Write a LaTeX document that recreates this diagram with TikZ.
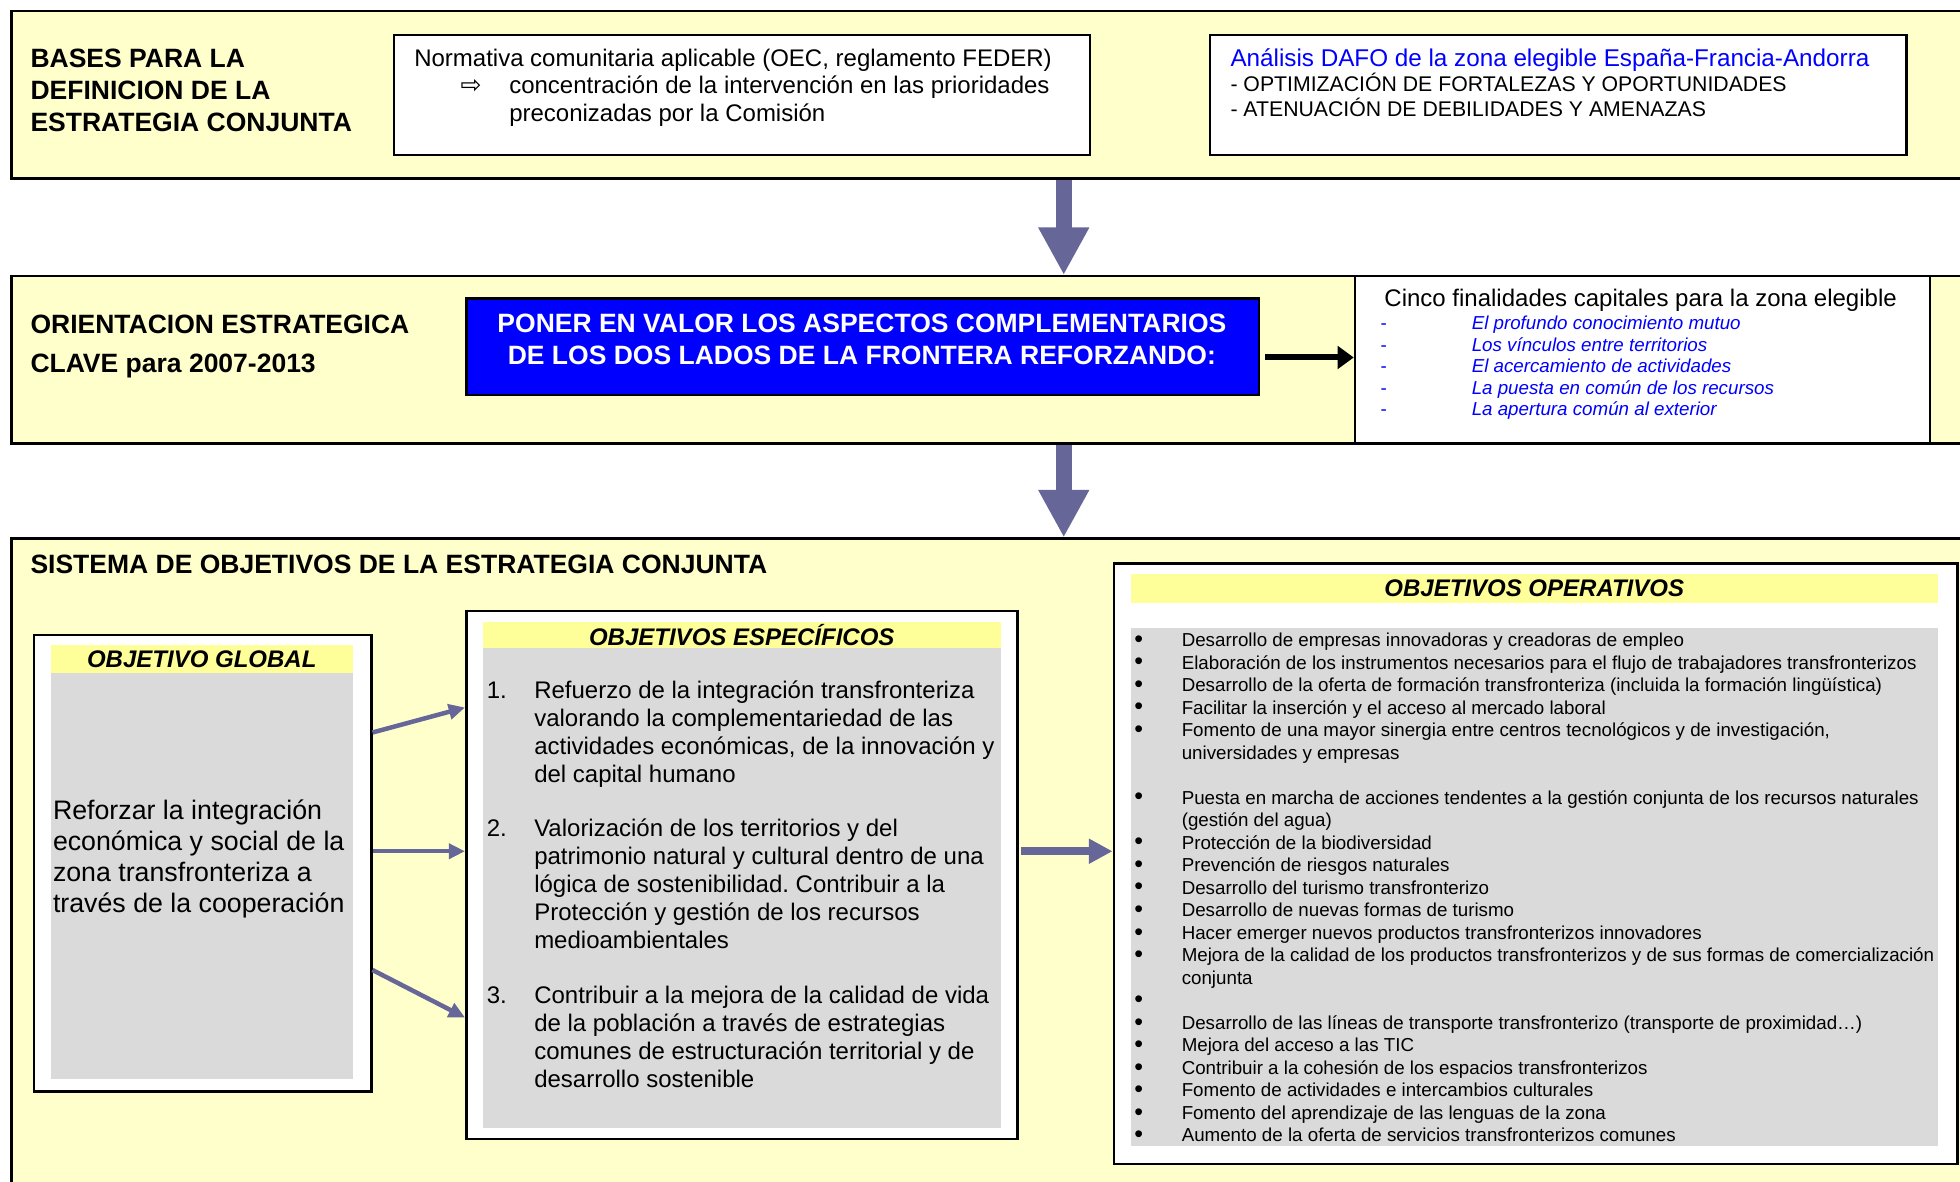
\documentclass[tikz,border=0pt]{standalone}
\usepackage{fontspec}
\setmainfont{Liberation Sans}
\newfontfamily\djv{DejaVu Sans}
\usetikzlibrary{arrows.meta}
\definecolor{panelY}{HTML}{FFFFCC}
\definecolor{headY}{HTML}{FFFF99}
\definecolor{greyF}{HTML}{DADADA}
\definecolor{arrB}{HTML}{666699}
\definecolor{pureB}{HTML}{0000FF}
\frenchspacing
\begin{document}
\begin{tikzpicture}[x=0.5pt,y=-0.5pt,
  panel/.style={draw=black, line width=1pt, fill=panelY, anchor=north west, inner sep=0pt},
  wbox/.style={draw=black, line width=1pt, fill=white, anchor=north west, inner sep=0pt},
  hbar/.style={fill=headY, anchor=north west, inner sep=0pt, font=\fontsize{9.6}{11}\selectfont\bfseries\itshape},
  gbar/.style={fill=greyF, anchor=north west, inner sep=0pt},
  txt/.style={anchor=base west, inner sep=0pt},
  hd/.style={txt, font=\fontsize{10.6}{12}\selectfont\bfseries},
  bigarrow/.style={draw=arrB, line width=6.2pt, -{Triangle[width=19pt,length=19pt]}, arrB},
  midarrow/.style={draw=arrB, line width=3pt, -{Triangle[width=9.5pt,length=9.5pt]}, arrB},
  smallarrow/.style={draw=arrB, line width=1.8pt, -{Triangle[width=6pt,length=6.5pt]}, arrB},
  blackarrow/.style={draw=black, line width=2.4pt, -{Triangle[width=9pt,length=6.5pt]}}
]
\useasboundingbox (0,0) rectangle (1568,945);
\fill[white] (0,0) rectangle (1568,945);

% ---------- panel 1 ----------
\node[panel, minimum width=796pt, minimum height=67pt] (p1) at (8,8) {};
\foreach \t [count=\i] in {BASES PARA LA, DEFINICION DE LA, ESTRATEGIA CONJUNTA}
  \node[hd] (ha\i) at (24,{54+25.5*(\i-1)}) {\t};
\node[wbox, minimum width=278.5pt, minimum height=48pt] (bn) at (314,27) {};
\node[txt, font=\fontsize{9.6}{11}\selectfont] (bn1) at (331,53) {Normativa comunitaria aplicable (OEC, reglamento FEDER)};
\node[anchor=base west, inner sep=0pt, font=\djv\fontsize{10}{11}\selectfont] (bnar) at (368,75) {⇨};
\node[txt, font=\fontsize{9.6}{11}\selectfont] (bn2) at (407,75) {concentración de la intervención en las prioridades};
\node[txt, font=\fontsize{9.6}{11}\selectfont] (bn3) at (407,97) {preconizadas por la Comisión};
\node[wbox, minimum width=278.5pt, minimum height=48pt] (bd) at (967,27) {};
\node[txt, font=\fontsize{9.7}{11}\selectfont, text=pureB] (bd1) at (984,53) {Análisis DAFO de la zona elegible España-Francia-Andorra};
\node[txt, font=\fontsize{8.5}{10}\selectfont] (bd2) at (984,73) {- OPTIMIZACIÓN DE FORTALEZAS Y OPORTUNIDADES};
\node[txt, font=\fontsize{8.5}{10}\selectfont] (bd3) at (984,93) {- ATENUACIÓN DE DEBILIDADES Y AMENAZAS};

% ---------- panel 2 ----------
\node[panel, minimum width=796pt, minimum height=67pt] (p2) at (8,220) {};
\node[hd] (hb1) at (24,267) {ORIENTACION ESTRATEGICA};
\node[hd] (hb2) at (24,298) {CLAVE para 2007-2013};
\node[draw=black, line width=1pt, fill=pureB, anchor=north west, inner sep=0pt, minimum width=317pt, minimum height=38.5pt] (blue) at (372,238) {};
\node[anchor=base, inner sep=0pt, text=white, font=\fontsize{10.6}{12}\selectfont\bfseries] (bl1) at (689.5,266) {PONER EN VALOR LOS ASPECTOS COMPLEMENTARIOS};
\node[anchor=base, inner sep=0pt, text=white, font=\fontsize{10.6}{12}\selectfont\bfseries] (bl2) at (689.5,292) {DE LOS DOS LADOS DE LA FRONTERA REFORZANDO:};
\node[wbox, minimum width=230pt, minimum height=67pt] (cinco) at (1083,220) {};
\node[anchor=base, inner sep=0pt, font=\fontsize{9.6}{11}\selectfont] (ct) at (1312.5,245) {Cinco finalidades capitales para la zona elegible};
\foreach \t [count=\i] in {El profundo conocimiento mutuo, Los vínculos entre territorios, El acercamiento de actividades, La puesta en común de los recursos, La apertura común al exterior}{
  \node[txt, text=pureB, font=\fontsize{7.5}{8.6}\selectfont] (cd\i) at (1104,{264+17.2*(\i-1)}) {-};
  \node[txt, text=pureB, font=\fontsize{7.5}{8.6}\selectfont\itshape] (ci\i) at (1177,{264+17.2*(\i-1)}) {\t};
}

% ---------- panel 3 ----------
\node[panel, minimum width=796pt, minimum height=300pt] (p3) at (8,430) {};
\node[hd] (hc) at (24,459) {SISTEMA DE OBJETIVOS DE LA ESTRATEGIA CONJUNTA};

% objetivo global
\node[wbox, minimum width=135pt, minimum height=182.5pt] (gbox) at (26,507) {};
\node[hbar, minimum width=121pt, minimum height=11pt] (ghead) at (40,516) {OBJETIVO GLOBAL};
\node[gbar, minimum width=121pt, minimum height=162.5pt] (ggrey) at (40,538) {};
\foreach \t [count=\i] in {Reforzar la integración, económica y social de la, zona transfronteriza a, través de la cooperación}
  \node[txt, font=\fontsize{10.7}{12.3}\selectfont] (gt\i) at (42,{656+24.6*(\i-1)}) {\t};

% objetivos especificos
\node[wbox, minimum width=220.5pt, minimum height=211pt] (sbox) at (372,488) {};
\node[hbar, minimum width=207pt, minimum height=10.5pt] (shead) at (386,497) {OBJETIVOS ESPECÍFICOS};
\node[gbar, minimum width=207pt, minimum height=192pt] (sgrey) at (386,518) {};
\node[txt, font=\fontsize{9.6}{11.2}\selectfont] (sn1) at (389,558.5) {1.};
\node[txt, font=\fontsize{9.6}{11.2}\selectfont] (sn2) at (389,669) {2.};
\node[txt, font=\fontsize{9.6}{11.2}\selectfont] (sn3) at (389,802.5) {3.};
\foreach \t [count=\i] in {Refuerzo de la integración transfronteriza, valorando la complementariedad de las, {actividades económicas, de la innovación y}, del capital humano}
  \node[txt, font=\fontsize{9.6}{11.2}\selectfont] (sa\i) at (427,{558.5+22.4*(\i-1)}) {\t};
\foreach \t [count=\i] in {Valorización de los territorios y del, patrimonio natural y cultural dentro de una, lógica de sostenibilidad. Contribuir a la, Protección y gestión de los recursos, medioambientales}
  \node[txt, font=\fontsize{9.6}{11.2}\selectfont] (sb\i) at (427,{669+22.4*(\i-1)}) {\t};
\foreach \t [count=\i] in {Contribuir a la mejora de la calidad de vida, de la población a través de estrategias, comunes de estructuración territorial y de, desarrollo sostenible}
  \node[txt, font=\fontsize{9.6}{11.2}\selectfont] (sc\i) at (427,{802.5+22.4*(\i-1)}) {\t};

% objetivos operativos
\node[wbox, minimum width=337.5pt, minimum height=240pt] (obox) at (890,450) {};
\node[hbar, minimum width=323pt, minimum height=11.5pt] (ohead) at (904,459) {OBJETIVOS OPERATIVOS};
\node[gbar, minimum width=323pt, minimum height=207pt] (ogrey) at (904,502) {};
\foreach \k/\b/\t in {
  0/1/{Desarrollo de empresas innovadoras y creadoras de empleo},
  1/1/{Elaboración de los instrumentos necesarios para el flujo de trabajadores transfronterizos},
  2/1/{Desarrollo de la oferta de formación transfronteriza (incluida la formación lingüística)},
  3/1/{Facilitar la inserción y el acceso al mercado laboral},
  4/1/{Fomento de una mayor sinergia entre centros tecnológicos y de investigación,},
  5/0/{universidades y empresas},
  7/1/{Puesta en marcha de acciones tendentes a la gestión conjunta de los recursos naturales},
  8/0/{(gestión del agua)},
  9/1/{Protección de la biodiversidad},
  10/1/{Prevención de riesgos naturales},
  11/1/{Desarrollo del turismo transfronterizo},
  12/1/{Desarrollo de nuevas formas de turismo},
  13/1/{Hacer emerger nuevos productos transfronterizos innovadores},
  14/1/{Mejora de la calidad de los productos transfronterizos y de sus formas de comercialización},
  15/0/{conjunta},
  16/1/{},
  17/1/{Desarrollo de las líneas de transporte transfronterizo (transporte de proximidad…)},
  18/1/{Mejora del acceso a las TIC},
  19/1/{Contribuir a la cohesión de los espacios transfronterizos},
  20/1/{Fomento de actividades e intercambios culturales},
  21/1/{Fomento del aprendizaje de las lenguas de la zona},
  22/1/{Aumento de la oferta de servicios transfronterizos comunes}}{
  \ifnum\b=1
    \node[anchor=base, inner sep=0pt, font=\fontsize{10}{10}\selectfont] (ob\k) at (911,{518+18*\k}) {•};
  \fi
  \node[txt, font=\fontsize{7.5}{9}\selectfont] (op\k) at (945,{517.5+18*\k}) {\t};
}

% ---------- connectors ----------
\coordinate (axis) at (851,0);
\draw[bigarrow] (p1.south -| axis) -- (p2.north -| axis);
\draw[bigarrow] (p2.south -| axis) -- (p3.north -| axis);
\draw[blackarrow] ([shift={(2pt,-4.25pt)}]blue.east) -- ([yshift=-4.25pt]blue.east -| cinco.west);
\draw[smallarrow] ([yshift=52.25pt]gbox.east) -- ([yshift=67pt]sbox.west);
\draw[smallarrow] ([yshift=9.5pt]sbox.west -| gbox.east) -- ([yshift=9.5pt]sbox.west);
\draw[smallarrow] ([yshift=-42.75pt]gbox.east) -- ([yshift=-57pt]sbox.west);
\draw[midarrow] ([shift={(1pt,9.5pt)}]sbox.east) -- ([yshift=9.5pt]sbox.east -| obox.west);
\end{tikzpicture}
\end{document}
